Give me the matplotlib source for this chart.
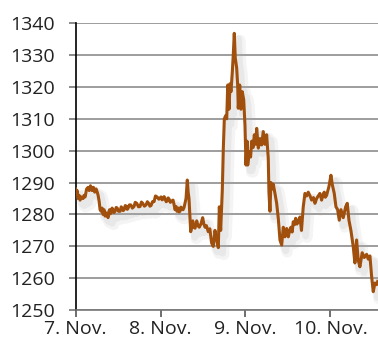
import numpy as np
import matplotlib.pyplot as plt
import matplotlib.patheffects as pe

plt.rcParams['font.family'] = ['Open Sans', 'DejaVu Sans']

# time in days since 7 Nov 00:00, price per day
t_nov7 = [0.000, 0.010, 0.018, 0.030, 0.042, 0.053, 0.070, 0.088, 0.100, 0.112,
          0.130, 0.147, 0.160, 0.175, 0.194, 0.210, 0.225, 0.241, 0.255, 0.265,
          0.278, 0.288, 0.300, 0.312, 0.324, 0.335, 0.347, 0.360, 0.371, 0.382,
          0.391, 0.400, 0.409, 0.418, 0.430, 0.440, 0.452, 0.465, 0.478, 0.490,
          0.505, 0.524, 0.537, 0.550, 0.560, 0.571, 0.585, 0.600, 0.609, 0.618,
          0.633, 0.650, 0.668, 0.688, 0.702, 0.720, 0.740, 0.759, 0.775, 0.790,
          0.810, 0.829, 0.845, 0.860, 0.875, 0.888, 0.905, 0.924, 0.940, 0.959,
          0.980]
p_nov7 = [1288, 1286.5, 1287.5, 1285, 1286, 1284.5, 1285.5, 1285, 1286, 1285.5,
          1288, 1288.5, 1287.5, 1289, 1287.5, 1288.5, 1287, 1288, 1287, 1286,
          1284, 1281.5, 1281, 1282, 1280, 1281.5, 1279.5, 1280.5, 1279.8, 1279,
          1280.8, 1281.5, 1280.2, 1280.5, 1282, 1281.5, 1280.6, 1281, 1282.2, 1282,
          1281, 1281, 1282.4, 1282, 1281.2, 1281.5, 1282.8, 1282.5, 1281.6, 1282,
          1283, 1283, 1282, 1282.5, 1283.8, 1283.5, 1282.4, 1282.5, 1283.9, 1283.5,
          1282.6, 1283, 1284, 1283.5, 1282.6, 1282.8, 1284, 1284, 1285.8, 1285.5,
          1284.8]

t_nov8 = [1.006, 1.018, 1.030, 1.042, 1.053, 1.066, 1.080, 1.090, 1.100, 1.115,
          1.130, 1.147, 1.160, 1.171, 1.183, 1.194, 1.210, 1.220, 1.229, 1.240,
          1.250, 1.265, 1.277, 1.288, 1.300, 1.315, 1.325, 1.335, 1.355, 1.370,
          1.379, 1.390, 1.406, 1.426, 1.440, 1.456, 1.475, 1.496, 1.510, 1.524,
          1.540, 1.562, 1.580, 1.602, 1.621, 1.641, 1.661, 1.680, 1.692, 1.708,
          1.727, 1.739, 1.751, 1.767, 1.779, 1.791, 1.806, 1.818, 1.829, 1.845,
          1.856, 1.868, 1.880, 1.896, 1.908, 1.915, 1.932, 1.947, 1.962, 1.979,
          1.994]
p_nov8 = [1285.5, 1284.6, 1284.8, 1285.6, 1285, 1284, 1284.3, 1285.2, 1284.8, 1283.8,
          1284.2, 1284.5, 1283, 1281.5, 1282.5, 1281, 1282, 1280.8, 1281, 1282.3,
          1282, 1281.5, 1282.2, 1283.5, 1285, 1290.8, 1287, 1285, 1274.6, 1276.5,
          1278, 1276, 1275.7, 1278, 1276.5, 1276, 1277, 1279, 1277, 1276,
          1276.5, 1274.6, 1275.5, 1271, 1270, 1275, 1272, 1269.6, 1282.4, 1275,
          1287.6, 1300.7, 1310, 1311, 1310, 1320.6, 1313, 1321, 1318.5, 1324.7,
          1330, 1336.8, 1329, 1326, 1320.6, 1313.3, 1320.6, 1313, 1318.5, 1316,
          1308]

t_nov9 = [2.006, 2.018, 2.026, 2.045, 2.060, 2.074, 2.090, 2.104, 2.120, 2.132,
          2.151, 2.171, 2.191, 2.209, 2.229, 2.249, 2.268, 2.276, 2.288, 2.300,
          2.314, 2.327, 2.347, 2.367, 2.386, 2.406, 2.426, 2.445, 2.465, 2.485,
          2.504, 2.520, 2.535, 2.550, 2.562, 2.577, 2.591, 2.606, 2.621, 2.641,
          2.659, 2.680, 2.700, 2.720, 2.739, 2.760, 2.779, 2.800, 2.818, 2.835,
          2.849, 2.876, 2.896, 2.912, 2.927, 2.940, 2.955, 2.982]
p_nov9 = [1295.5, 1303, 1295.5, 1299.7, 1298, 1303, 1301, 1305, 1302, 1307,
          1300.8, 1303.8, 1301.8, 1306, 1302, 1305, 1297.6, 1287, 1281, 1290,
          1288, 1289.5, 1286.6, 1283.5, 1278.8, 1272, 1270.4, 1276, 1273, 1275.6,
          1273, 1275, 1276, 1274.5, 1277.7, 1276.8, 1278.8, 1277, 1277.7, 1279.2,
          1275, 1282.4, 1286.6, 1285.8, 1287, 1285.8, 1284.5, 1285.3, 1283.5, 1284.8,
          1285.5, 1286.6, 1284.5, 1286.2, 1287, 1285.4, 1286, 1288.7]

t_nov10 = [3.006, 3.021, 3.045, 3.065, 3.085, 3.104, 3.124, 3.151, 3.179, 3.198,
           3.218, 3.241, 3.268, 3.288, 3.308, 3.327, 3.347, 3.374, 3.398, 3.426,
           3.445, 3.465, 3.485, 3.504, 3.524, 3.544, 3.556]
p_nov10 = [1292.3, 1289.5, 1286.6, 1282.4, 1281.5, 1278.2, 1281.5, 1279, 1282.4, 1283.5,
           1278.2, 1275, 1270, 1264.8, 1272, 1265.7, 1263.6, 1268, 1266.5, 1267.5,
           1266, 1267, 1260.5, 1255.8, 1258.5, 1258, 1259]

tick_days = [0, 1, 2, 3]
tick_labels = ['7. Nov.', '8. Nov.', '9. Nov.', '10. Nov.']

t = np.concatenate([t_nov7, t_nov8, t_nov9, t_nov10])
p = np.concatenate([p_nov7, p_nov8, p_nov9, p_nov10])

fig = plt.figure(figsize=(3.78, 3.45), dpi=100)
ax = fig.add_axes([0.2, 0.101, 0.8, 0.832])

# soft drop shadow under the line
shadow = [pe.SimpleLineShadow(offset=(4, -5), shadow_color='#aaaaaa', alpha=0.12, linewidth=8),
          pe.SimpleLineShadow(offset=(3, -4), shadow_color='#aaaaaa', alpha=0.15, linewidth=5),
          pe.Normal()]
ax.plot(t, p, color='#a04f0c', lw=2.2, zorder=3, path_effects=shadow)

ax.set_xlim(0, 3.56)
ax.set_ylim(1250, 1340)
ax.set_yticks(np.arange(1250, 1341, 10))
ax.set_xticks(tick_days)
ax.set_xticklabels(tick_labels)

ax.grid(axis='y', color='#8c8c8c', lw=1.2)
ax.set_axisbelow(True)
for s in ['top', 'right']:
    ax.spines[s].set_visible(False)
ax.spines['left'].set_color('black')
ax.spines['left'].set_linewidth(1.2)
ax.spines['bottom'].set_color('#777777')
ax.spines['bottom'].set_linewidth(1.2)

ax.tick_params(axis='y', length=5, width=1.2, color='#777777', pad=10, labelsize=14, labelcolor='#222222')
ax.tick_params(axis='x', length=5, width=1.2, color='#555555', pad=2, labelsize=14, labelcolor='#222222')

plt.savefig('out.png', dpi=100)
